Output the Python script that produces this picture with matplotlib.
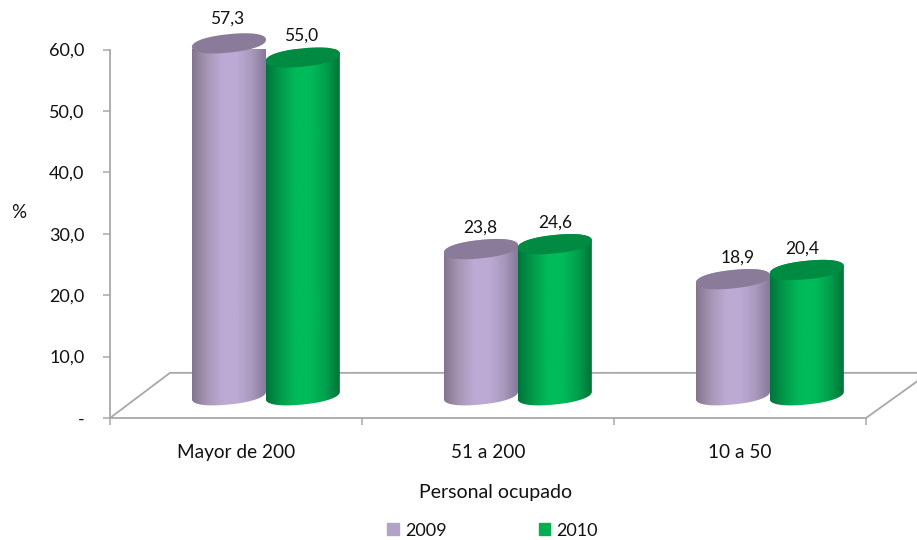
import matplotlib

matplotlib.use("Agg")
import matplotlib.pyplot as plt
import numpy as np
from matplotlib.colors import LinearSegmentedColormap
from matplotlib.patches import Patch, Polygon

plt.rcParams["font.family"] = ["Lato", "DejaVu Sans"]

categories = ["Mayor de 200", "51 a 200", "10 a 50"]
values_2009 = [57.3, 23.8, 18.9]
values_2010 = [55.0, 24.6, 20.4]
y_ticks = [0, 10, 20, 30, 40, 50, 60]
y_tick_labels = ["-", "10,0", "20,0", "30,0", "40,0", "50,0", "60,0"]

GREY = "#a8a8a8"
TEXT = "#111111"

# fake 3D: cylinder sizes in axis units
OFFSETS = (0.472, 0.765)
HALF_W = 0.147
RIM_H = 1.5
RIM_TILT = 0.6
RIM_ROUND = 0.9
BASE = 3.7
FLOOR_Y = 7.35

# small label shifts in points, excel placed them a bit unevenly
NUDGE_2009 = [(-1.5, 18), (-0.5, 15.5), (3.5, 15.5)]
NUDGE_2010 = [(-1, 15.5), (0, 15.5), (-3.5, 15.5)]

PURPLE = LinearSegmentedColormap.from_list(
    "purple", ["#83758f", "#a797b5", "#bcaad4", "#bcaad4", "#a999bd", "#85779a"]
)
GREEN = LinearSegmentedColormap.from_list(
    "green", ["#00743a", "#009c4c", "#00bb5a", "#00bb5a", "#00a04e", "#006f36"]
)


def rim(cx, cy, t):
    # slightly squared ellipse, the original rims are fuller than a plain one
    c = np.sign(np.cos(t)) * np.abs(np.cos(t)) ** RIM_ROUND
    s = np.sign(np.sin(t)) * np.abs(np.sin(t)) ** RIM_ROUND
    return cx + HALF_W * c, cy + RIM_H * s + RIM_TILT * c


def cylinder(ax, cx, value, cmap, top_color, nudge):
    t_low = np.linspace(np.pi, 2 * np.pi, 60)
    t_up = np.linspace(0, np.pi, 60)
    top_y = BASE + value
    bx, by = rim(cx, BASE, t_low)
    tx, ty = rim(cx, top_y, t_up)
    body = Polygon(np.column_stack([np.r_[bx, tx], np.r_[by, ty]]), closed=True, fc="none", ec="none")
    ax.add_patch(body)
    grad = np.linspace(0, 1, 128).reshape(1, -1)
    im = ax.imshow(
        grad,
        cmap=cmap,
        aspect="auto",
        extent=(cx - HALF_W, cx + HALF_W, 0, top_y + 3),
        zorder=3,
    )
    im.set_clip_path(body)
    im.set_clip_box(None)
    ex, ey = rim(cx, top_y, np.linspace(0, 2 * np.pi, 120))
    ax.fill(ex, ey, color=top_color, lw=0, zorder=3, clip_on=False)
    ax.annotate(
        f"{value:.1f}".replace(".", ","),
        (cx, top_y),
        xytext=nudge,
        textcoords="offset points",
        ha="center",
        va="center",
        fontsize=12.5,
        color=TEXT,
        zorder=5,
        annotation_clip=False,
    )


fig = plt.figure(figsize=(9.17, 5.4), dpi=100)
ax = fig.add_axes([110 / 917, 1 - 418 / 540, 756 / 917, 368.5 / 540])

# floor outline behind the cylinders
ax.plot(
    [0, 0.238, 3.25, 3.0],
    [0, FLOOR_Y, FLOOR_Y, 0],
    color=GREY,
    lw=1.3,
    clip_on=False,
    zorder=1,
)

for i in range(len(categories)):
    cylinder(ax, i + OFFSETS[0], values_2009[i], PURPLE, "#8b7b9b", NUDGE_2009[i])
    cylinder(ax, i + OFFSETS[1], values_2010[i], GREEN, "#008a42", NUDGE_2010[i])

ax.set_xlim(0, 3)
ax.set_ylim(0, 60)

for side in ("top", "right"):
    ax.spines[side].set_visible(False)
for side in ("left", "bottom"):
    ax.spines[side].set_color(GREY)
    ax.spines[side].set_linewidth(1.3)

ax.set_yticks(y_ticks, y_tick_labels)
ax.tick_params(axis="y", length=5, width=1.1, color=GREY, pad=13.5, labelsize=13, labelcolor=TEXT)
ax.set_xticks([0, 1, 2, 3], [])
ax.tick_params(axis="x", which="major", length=5, width=1.1, color=GREY)
ax.set_xticks([0.5, 1.5, 2.5], categories, minor=True)
ax.tick_params(axis="x", which="minor", length=0, pad=18.5, labelsize=13.7, labelcolor=TEXT)

ax.set_xlabel("Personal ocupado", fontsize=14, color=TEXT, labelpad=17, x=0.51)
fig.text(19 / 917, 1 - 212 / 540, "%", fontsize=13.5, color=TEXT, ha="center", va="center")

handles = [Patch(color="#b3a2c7", label="2009"), Patch(color="#00b050", label="2010")]
fig.legend(
    handles=handles,
    loc="center",
    bbox_to_anchor=(492.5 / 917, 1 - 530.5 / 540),
    ncol=2,
    frameon=False,
    fontsize=13,
    handlelength=0.65,
    handleheight=0.65,
    handletextpad=0.35,
    columnspacing=5.1,
    labelcolor=TEXT,
)

fig.savefig("out.png", dpi=100)
